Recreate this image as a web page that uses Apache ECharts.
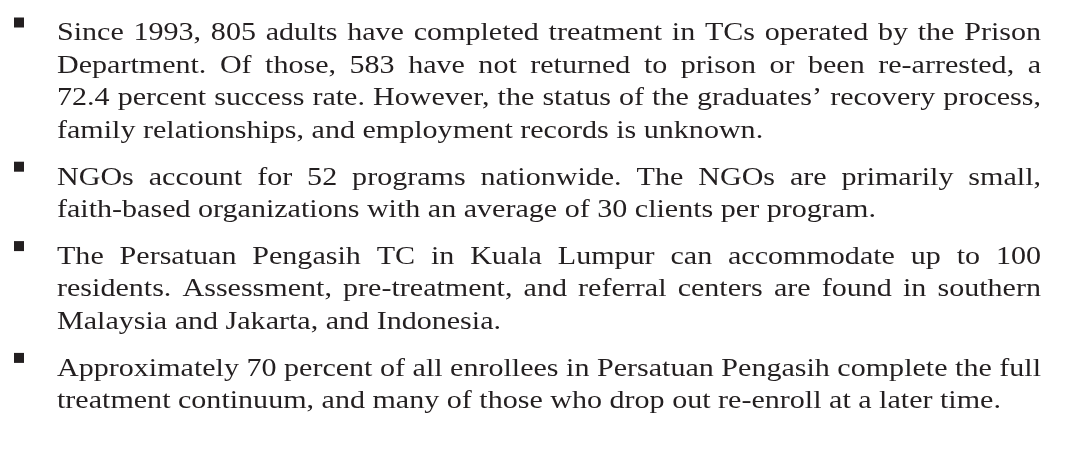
<!DOCTYPE html>
<html>
<head>
<meta charset="utf-8">
<script src="https://cdn.jsdelivr.net/npm/echarts@6/dist/echarts.min.js"></script>
<style>
html,body{margin:0;padding:0;background:#fff;}
#chart{width:1067px;height:470px;}
</style>
</head>
<body>
<div id="chart"></div>
<script>
// Text content, one entry per printed line
const bullet1Lines = [
  "Since 1993, 805 adults have completed treatment in TCs operated by the Prison",
  "Department. Of those, 583 have not returned to prison or been re-arrested, a",
  "72.4 percent success rate. However, the status of the graduates\u2019 recovery process,",
  "family relationships, and employment records is unknown."
];
const bullet2Lines = [
  "NGOs account for 52 programs nationwide. The NGOs are primarily small,",
  "faith-based organizations with an average of 30 clients per program."
];
const bullet3Lines = [
  "The Persatuan Pengasih TC in Kuala Lumpur can accommodate up to 100",
  "residents. Assessment, pre-treatment, and referral centers are found in southern",
  "Malaysia and Jakarta, and Indonesia."
];
const bullet4Lines = [
  "Approximately 70 percent of all enrollees in Persatuan Pengasih complete the full",
  "treatment continuum, and many of those who drop out re-enroll at a later time."
];
const paragraphs = [bullet1Lines, bullet2Lines, bullet3Lines, bullet4Lines];

const FONT_FAMILY = '"Liberation Serif", "Times New Roman", serif';
const FONT_SIZE = 26;
const FONT = FONT_SIZE + 'px ' + FONT_FAMILY;
const TEXT_COLOR = '#231f20';
const TEXT_LEFT = 57;
const TEXT_RIGHT = 1041;
const FIRST_Y = 33.5;
const LINE_PITCH = 32.4;
const PARA_GAP = 14.6;
const BULLET_X = 14;
const BULLET_SIZE = 10;
const BULLET_RAISE = 11;

const chart = echarts.init(document.getElementById('chart'), null, {renderer: 'canvas'});
const ctx = document.createElement('canvas').getContext('2d');
ctx.font = FONT;
const measure = s => ctx.measureText(s).width;
const spaceW = measure(' ');

// horizontal stretch so that the tightest justified line fits with normal spacing
const avail = TEXT_RIGHT - TEXT_LEFT;
let stretch = Infinity;
paragraphs.forEach(lines => lines.slice(0, -1).forEach(line => {
  stretch = Math.min(stretch, avail / measure(line));
}));

const elements = [];
let y = FIRST_Y;
paragraphs.forEach((lines, pi) => {
  if (pi > 0) y += PARA_GAP;
  elements.push({
    type: 'rect',
    shape: {x: BULLET_X, y: y - BULLET_RAISE - BULLET_SIZE / 2, width: BULLET_SIZE, height: BULLET_SIZE},
    style: {fill: '#231f20'}
  });
  lines.forEach((line, li) => {
    const isLast = li === lines.length - 1;
    const words = line.split(' ');
    const widths = words.map(w => measure(w) * stretch);
    const total = widths.reduce((a, b) => a + b, 0);
    const gap = isLast ? spaceW * stretch : (avail - total) / (words.length - 1);
    let x = TEXT_LEFT;
    words.forEach((w, wi) => {
      elements.push({
        type: 'text', x: x, y: y, scaleX: stretch,
        style: {text: w, font: FONT, fill: TEXT_COLOR, verticalAlign: 'middle', align: 'left'}
      });
      x += widths[wi] + gap;
    });
    y += LINE_PITCH;
  });
});

chart.setOption({
  backgroundColor: '#ffffff',
  animation: false,
  graphic: {elements: elements}
});
</script>
</body>
</html>
